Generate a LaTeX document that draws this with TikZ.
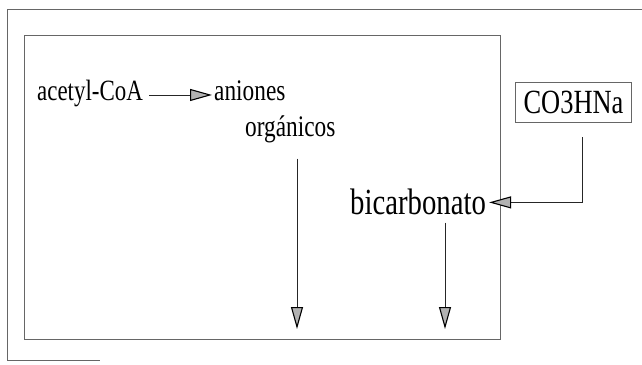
\documentclass[tikz,border=0pt]{standalone}
\usepackage{fontspec}
\setmainfont{Liberation Serif}
\newfontfamily\narrowserif{Liberation Serif}[FakeStretch=0.78]
\usetikzlibrary{arrows.meta}
\begin{document}
\begin{tikzpicture}[x=1bp,y=-1bp,
  frame/.style={draw=black!60,line width=0.6pt},
  lbl/.style={inner sep=0pt,anchor=base west},
  flow/.style={draw=black!85,line width=0.8pt,
    -{Triangle[length=22bp,width=12bp,fill=black!30,color=black,line width=1.1pt]}},
  boxlbl/.style={draw=black!60,line width=0.6pt,minimum width=116bp,minimum height=40bp,
    inner sep=0pt,font=\narrowserif\fontsize{34}{38}\selectfont}]
  \useasboundingbox (0,0) rectangle (642,364);
  % outer frame (open at the right)
  \draw[frame,line width=0.9pt] (642,9) -- (7,9) -- (7,360) -- (100,360);
  % inner compartment
  \draw[frame] (24,35) rectangle (500,339);
  % labels
  \node[lbl,font=\narrowserif\fontsize{29.5}{33}\selectfont] (acetyl) at (37,100) {acetyl-CoA};
  \node[lbl,font=\narrowserif\fontsize{30}{34}\selectfont] (aniones) at (214,100) {aniones};
  \node[lbl,font=\narrowserif\fontsize{30}{34}\selectfont] (organicos) at (245,136) {orgánicos};
  \node[lbl,font=\narrowserif\fontsize{37}{41}\selectfont] (bicarb) at (350,214) {bicarbonato};
  \node[boxlbl] (co3) at (573.5,102) {CO3HNa};
  % arrow ends at the bottom of the compartment
  \coordinate (endA) at (297,329);
  \coordinate (endB) at (445,329);
  \coordinate (drop) at (582,137);
  % connectors
  \draw[flow,shorten <=6bp,shorten >=2bp] ([yshift=-2bp]acetyl.east) -- ([yshift=-2bp]acetyl.east -| aniones.west);
  \draw[flow] ([yshift=-16bp]organicos.south -| endA) -- (endA);
  \draw[flow] ([yshift=-8bp]bicarb.south -| endB) -- (endB);
  \draw[flow,shorten >=3bp] (drop) |- ([yshift=-1bp]bicarb.east);
\end{tikzpicture}
\end{document}
